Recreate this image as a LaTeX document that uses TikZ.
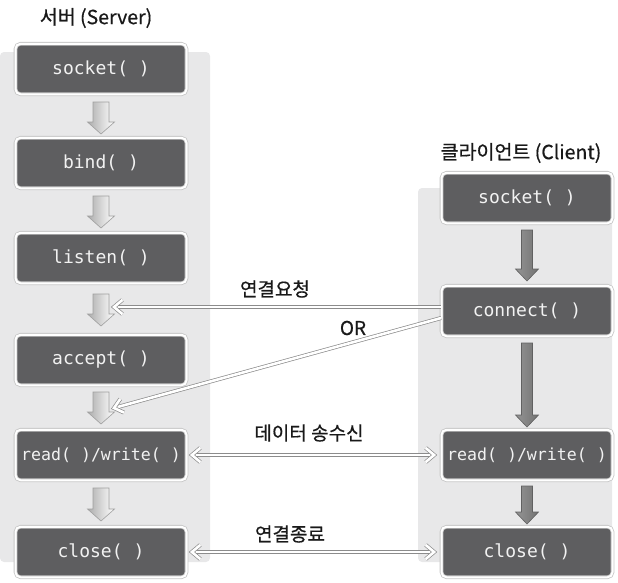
\documentclass[tikz,border=0pt]{standalone}
\usepackage{fontspec}
\setmonofont{DejaVu Sans Mono}
\newfontfamily\kr[FakeBold=0.6]{Noto Sans CJK KR}
\usetikzlibrary{calc}
\definecolor{panelgray}{HTML}{E8E8E9}
\definecolor{boxgray}{HTML}{5E5E60}
\definecolor{boxtext}{HTML}{F2F2F2}
\definecolor{linegray}{HTML}{8C8C8C}
\tikzset{
  panel/.style={fill=panelgray, draw=none, rounded corners=4pt},
  fbox/.style={rounded corners=5pt, fill=boxgray, draw=gray!45, double=white,
    double distance=2pt, line width=0.8pt, minimum width=171pt, minimum height=50.5pt,
    text=boxtext, inner sep=0pt, font=\ttfamily\fontsize{18}{20}\selectfont},
  title/.style={font=\kr\fontsize{19.5}{22}\selectfont, text=black!90, inner sep=0pt},
  lbl/.style={font=\kr\fontsize{19}{22}\selectfont, text=black!90, inner sep=0pt},
  conn/.style={draw=linegray, double=white, double distance=2.6pt, line width=0.7pt, line join=miter},
  srvarrow/.style={left color=gray!65, right color=white, draw=gray!75, line width=0.6pt},
  cliarrow/.style={left color=black!42, right color=black!55, draw=black!62, line width=0.6pt},
}
\newcommand{\blockarrow}[5]{% top, bottom, shaft half width, head extra, style
  \path[#5] ([xshift=-#3pt]#1) -- ([xshift=#3pt]#1) -- ([xshift=#3pt,yshift=12pt]#2)
    -- ([xshift=#3pt+#4pt,yshift=12pt]#2) -- (#2) -- ([xshift=-#3pt-#4pt,yshift=12pt]#2)
    -- ([xshift=-#3pt,yshift=12pt]#2) -- cycle;}
\newcommand{\chev}[2]{% tip, point the line comes from
  \draw[conn] ($(#1)!11pt!40:(#2)$) -- (#1) -- ($(#1)!11pt!-40:(#2)$);}
\begin{document}
\begin{tikzpicture}[x=1pt,y=-1pt]
\useasboundingbox (0,0) rectangle (618,582);
% panels
\path[panel] (0,52) rectangle (210,562);
\path[panel] (418,188) rectangle (612,562);
% titles
\node[title] (tserver) at (96,18) {서버 (Server)};
\node[title] (tclient) at (521,153) {클라이언트 (Client)};
% server boxes
\node[fbox] (ssock) at (101,69) {socket( )};
\node[fbox] (sbind) at (101,163) {bind( )};
\node[fbox] (slist) at (101,258) {listen( )};
\node[fbox] (sacc) at (101,360) {accept( )};
\node[fbox, font=\ttfamily\fontsize{16.6}{20}\selectfont] (srw) at (101,455) {read( )/write( )};
\node[fbox] (sclose) at (101,552) {close( )};
% client boxes
\node[fbox] (csock) at (527,198) {socket( )};
\node[fbox] (ccon) at (527,311) {connect( )};
\node[fbox, font=\ttfamily\fontsize{16.6}{20}\selectfont] (crw) at (527,455) {read( )/write( )};
\node[fbox] (cclose) at (527,552) {close( )};
% server flow arrows
\coordinate (a1t) at (101,102); \coordinate (a1b) at (101,134);
\coordinate (a2t) at (101,196); \coordinate (a2b) at (101,228);
\coordinate (a3t) at (101,294); \coordinate (a3b) at (101,326);
\coordinate (a4t) at (101,392); \coordinate (a4b) at (101,424);
\coordinate (a5t) at (101,488); \coordinate (a5b) at (101,521);
\blockarrow{a1t}{a1b}{8}{5.5}{srvarrow}
\blockarrow{a2t}{a2b}{8}{5.5}{srvarrow}
\blockarrow{a3t}{a3b}{8}{5.5}{srvarrow}
\blockarrow{a4t}{a4b}{8}{5.5}{srvarrow}
\blockarrow{a5t}{a5b}{8}{5.5}{srvarrow}
% client flow arrows
\coordinate (b1t) at (527,230); \coordinate (b1b) at (527,281);
\coordinate (b2t) at (527,343); \coordinate (b2b) at (527,427);
\coordinate (b3t) at (527,486); \coordinate (b3b) at (527,524);
\blockarrow{b1t}{b1b}{5.5}{6}{cliarrow}
\blockarrow{b2t}{b2b}{5.5}{6}{cliarrow}
\blockarrow{b3t}{b3b}{5.5}{6}{cliarrow}
% connection lines
\coordinate (reqs) at ([yshift=4pt]ccon.west);
\coordinate (ors) at ([yshift=-7pt]ccon.west);
\coordinate (reqtip) at (114,307);
\coordinate (ortip) at (114,408);
\coordinate (d1) at ($(srw.east)+(5,0)$);
\coordinate (d2) at ($(crw.west)+(-7,0)$);
\coordinate (e1) at ($(sclose.east)+(5,0)$);
\coordinate (e2) at ($(cclose.west)+(-7,0)$);
\draw[conn, shorten >=2pt] (reqs) -- (reqtip); \chev{reqtip}{reqs}
\draw[conn, shorten >=2pt] (ors) -- (ortip); \chev{ortip}{ors}
\draw[conn, shorten >=2pt, shorten <=2pt] (d1) -- (d2); \chev{d1}{d2} \chev{d2}{d1}
\draw[conn, shorten >=2pt, shorten <=2pt] (e1) -- (e2); \chev{e1}{e2} \chev{e2}{e1}
% labels
\node[lbl] (lreq) at (275,289) {연결요청};
\node[lbl] (lor) at (353,328) {OR};
\node[lbl] (ldata) at (309,433) {데이터 송수신};
\node[lbl] (lend) at (290,534) {연결종료};
\end{tikzpicture}
\end{document}
